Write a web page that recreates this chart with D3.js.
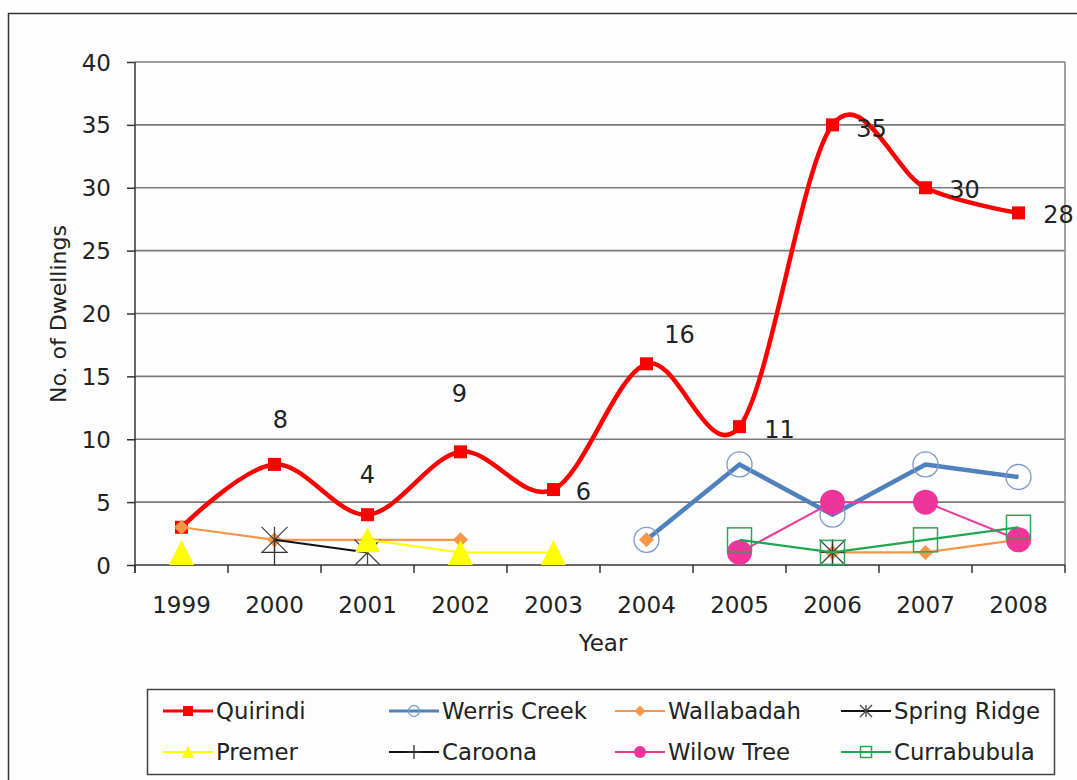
<!DOCTYPE html>
<html><head><meta charset="utf-8">
<script src="https://cdn.jsdelivr.net/npm/d3@7"></script>
<style>
html,body{margin:0;padding:0;background:#fff;}
svg{display:block;}
text{font-family:"DejaVu Sans",Verdana,sans-serif;fill:#222;}
</style></head>
<body><svg id="c" width="1077" height="780"></svg>
<script>
const years = ["1999","2000","2001","2002","2003","2004","2005","2006","2007","2008"];
const yTicks = [0,5,10,15,20,25,30,35,40];
const quirindi     = [3,8,4,9,6,16,11,35,30,28];
const werrisCreek  = [null,null,null,null,null,2,8,4,8,7];
const wallabadah   = [3,2,2,2,null,2,null,1,1,2];
const springRidge  = [null,2,1,null,null,null,null,1,null,null];
const premer       = [1,null,2,1,1,null,null,null,null,null];
const caroona      = [null,1,null,null,null,null,null,1,null,null];
const wilowTree    = [null,null,null,null,null,null,1,5,5,2];
const currabubula  = [null,null,null,null,null,null,2,1,2,3];
const seriesNames  = ["Quirindi","Werris Creek","Wallabadah","Spring Ridge","Premer","Caroona","Wilow Tree","Currabubula"];
const quirindiLabelOffsets = [null,[6,-36],[0,-32],[-1,-50],[30,10],[33,-21],[40,11],[39,12],[39,10],[40,10]];

const svg = d3.select("#c");
const W = 1077, H = 780;
const m = {left:135, right:1065, top:62, bottom:565};

svg.append("rect").attr("x",0).attr("y",0).attr("width",W).attr("height",H).attr("fill","#fdfdfd");
svg.append("rect").attr("x",8.5).attr("y",13.5).attr("width",1200).attr("height",900)
  .attr("fill","#fdfdfd").attr("stroke","#333").attr("stroke-width",1.5);

const x = d3.scaleBand().domain(years).range([m.left,m.right]);
const cx = d => x(d) + x.bandwidth()/2;
const y = d3.scaleLinear().domain([0,40]).range([m.bottom,m.top]);

// gridlines
svg.append("g").selectAll("line").data(yTicks.filter(t=>t>0)).join("line")
  .attr("x1",m.left).attr("x2",m.right).attr("y1",d=>y(d)).attr("y2",d=>y(d))
  .attr("stroke","#7a7a7a").attr("stroke-width",1.6);
// right plot border
svg.append("line").attr("x1",m.right).attr("x2",m.right).attr("y1",m.top).attr("y2",m.bottom)
  .attr("stroke","#8a8a8a").attr("stroke-width",1.6);

// y axis
const yAxis = d3.axisLeft(y).tickValues(yTicks).tickSize(8).tickPadding(16);
const gy = svg.append("g").attr("transform",`translate(${m.left},0)`).call(yAxis);
gy.select(".domain").remove();
gy.selectAll(".tick line").attr("stroke","#333").attr("stroke-width",1.5);
gy.selectAll(".tick text").attr("font-size",23).attr("font-family","DejaVu Sans").attr("fill","#222").attr("dy","0.35em");
svg.append("line").attr("x1",m.left).attr("x2",m.left).attr("y1",m.top).attr("y2",m.bottom+8)
  .attr("stroke","#333").attr("stroke-width",1.5);

// x axis
const gx = svg.append("g").attr("transform",`translate(0,${m.bottom})`)
  .call(d3.axisBottom(x).tickSize(0).tickPadding(40));
gx.select(".domain").remove();
gx.selectAll(".tick text").attr("font-size",23).attr("font-family","DejaVu Sans").attr("fill","#222").attr("dy","0.35em");
svg.append("line").attr("x1",m.left).attr("x2",m.right).attr("y1",m.bottom).attr("y2",m.bottom)
  .attr("stroke","#333").attr("stroke-width",1.5);
const bounds = years.map(d=>x(d)).concat([m.right]);
svg.append("g").selectAll("line").data(bounds).join("line")
  .attr("x1",d=>d).attr("x2",d=>d).attr("y1",m.bottom).attr("y2",m.bottom+8)
  .attr("stroke","#333").attr("stroke-width",1.5);

// axis titles
svg.append("text").attr("x",603).attr("y",651).attr("text-anchor","middle").attr("font-size",23).text("Year");
svg.append("text").attr("transform","translate(66,314) rotate(-90)").attr("text-anchor","middle").attr("font-size",22).text("No. of Dwellings");

// marker drawing
function marker(g, type, px, py, s, color){
  const h = s/2;
  if(type==="square"){
    g.append("rect").attr("x",px-h).attr("y",py-h).attr("width",s).attr("height",s).attr("fill",color);
  } else if(type==="hsquare"){
    g.append("rect").attr("x",px-h).attr("y",py-h).attr("width",s).attr("height",s).attr("fill","none").attr("stroke",color).attr("stroke-width",1.5);
  } else if(type==="hcircle"){
    g.append("circle").attr("cx",px).attr("cy",py).attr("r",h).attr("fill","none").attr("stroke",color).attr("stroke-width",1.3);
  } else if(type==="circle"){
    g.append("circle").attr("cx",px).attr("cy",py).attr("r",h).attr("fill",color);
  } else if(type==="diamond"){
    g.append("path").attr("d",`M${px},${py-h}L${px+h},${py}L${px},${py+h}L${px-h},${py}Z`).attr("fill",color);
  } else if(type==="triangle"){
    g.append("path").attr("d",`M${px},${py-h}L${px+h},${py+h}L${px-h},${py+h}Z`).attr("fill",color);
  } else if(type==="asterisk"){
    g.append("path").attr("d",`M${px-h},${py-h}L${px+h},${py+h}M${px+h},${py-h}L${px-h},${py+h}M${px},${py-h}L${px},${py+h}`)
      .attr("stroke",color).attr("stroke-width",1.3).attr("fill","none");
  } else if(type==="plus"){
    g.append("path").attr("d",`M${px-h},${py}L${px+h},${py}M${px},${py-h}L${px},${py+h}`)
      .attr("stroke",color).attr("stroke-width",1.3).attr("fill","none");
  }
}

const series = [
  {name:seriesNames[0], vals:quirindi,    color:"#ff0000", width:4.5, marker:"square",   ms:13, mcolor:"#ff0000", smooth:true, lm:10},
  {name:seriesNames[1], vals:werrisCreek, color:"#4f81bd", width:4.5, marker:"hcircle",  ms:25, mcolor:"#7d9bc8", lm:11},
  {name:seriesNames[2], vals:wallabadah,  color:"#f79646", width:2.2, marker:"diamond",  ms:15, mcolor:"#f79646", lm:11},
  {name:seriesNames[3], vals:springRidge, color:"#111111", width:2,   marker:"asterisk", ms:26, mcolor:"#444", lm:12},
  {name:seriesNames[4], vals:premer,      color:"#ffff00", width:2,   marker:"triangle", ms:25, mcolor:"#ffff00", lm:12},
  {name:seriesNames[5], vals:caroona,     color:"#111111", width:2,   marker:"plus",     ms:26, mcolor:"#333", lm:14},
  {name:seriesNames[6], vals:wilowTree,   color:"#ee3b9a", width:2,   marker:"circle",   ms:25, mcolor:"#f0359a", lm:12},
  {name:seriesNames[7], vals:currabubula, color:"#1ea650", width:2.2, marker:"hsquare",  ms:24, mcolor:"#2aa655", lm:11}
];

const plot = svg.append("g");
series.forEach(s=>{
  const pts = years.map((yr,i)=>({yr, v:s.vals[i]}));
  const line = d3.line().defined(d=>d.v!==null).x(d=>cx(d.yr)).y(d=>y(d.v))
    .curve(s.smooth ? d3.curveCatmullRom.alpha(0) : d3.curveLinear);
  plot.append("path").datum(pts).attr("d",line).attr("fill","none")
    .attr("stroke",s.color).attr("stroke-width",s.width).attr("stroke-linejoin","round");
  const mg = plot.append("g");
  pts.filter(d=>d.v!==null).forEach(d=>marker(mg, s.marker, cx(d.yr), y(d.v), s.ms, s.mcolor));
});

// data labels for Quirindi
const lab = svg.append("g");
years.forEach((yr,i)=>{
  const off = quirindiLabelOffsets[i];
  if(!off) return;
  lab.append("text").attr("x",cx(yr)+off[0]).attr("y",y(quirindi[i])+off[1])
    .attr("text-anchor","middle").attr("font-size",24).text(quirindi[i]);
});

// legend
const lg = svg.append("g");
lg.append("rect").attr("x",147.5).attr("y",689.5).attr("width",907).attr("height",85)
  .attr("fill","#fdfdfd").attr("stroke","#444").attr("stroke-width",1.5);
const colX = [163,389,615,841];
const rowY = [711,752];
series.forEach((s,i)=>{
  const lx = colX[i%4], ly = rowY[Math.floor(i/4)];
  lg.append("line").attr("x1",lx).attr("x2",lx+50).attr("y1",ly).attr("y2",ly)
    .attr("stroke",s.color).attr("stroke-width",Math.min(s.width,3));
  marker(lg, s.marker, lx+25, ly, s.lm, s.mcolor);
  lg.append("text").attr("x",lx+53).attr("y",ly).attr("dy","0.35em").attr("font-size",22.8).text(s.name);
});
</script>
</body></html>
